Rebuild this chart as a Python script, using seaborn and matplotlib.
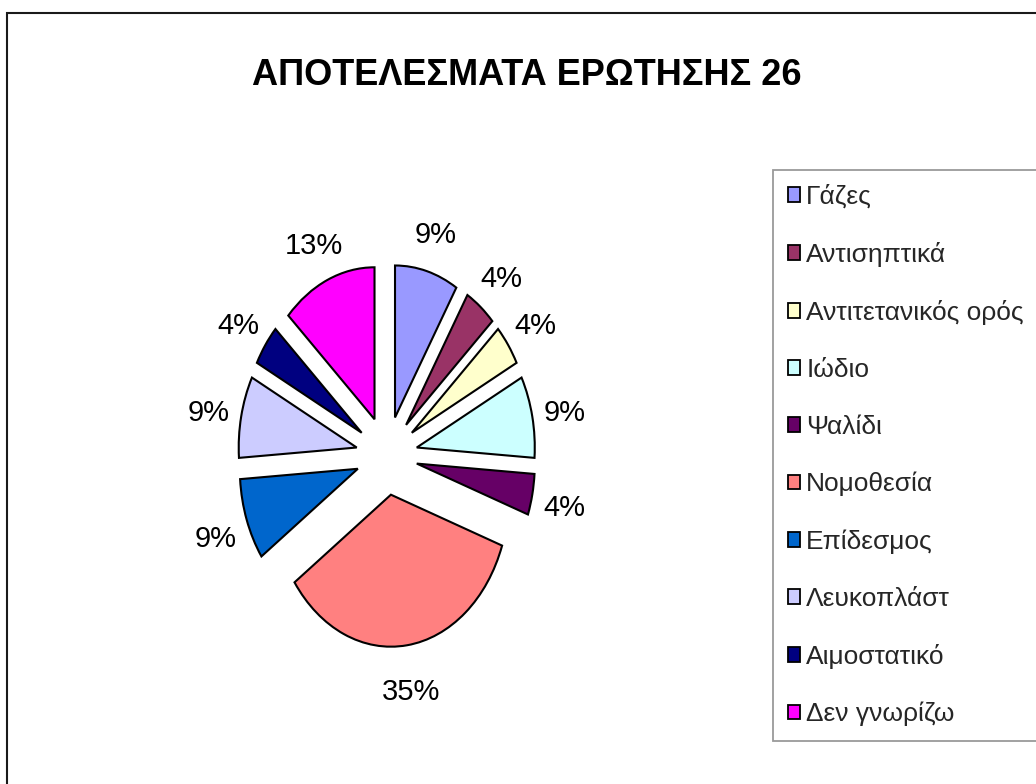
import matplotlib
matplotlib.use("Agg")
import matplotlib.pyplot as plt
from matplotlib import font_manager
from matplotlib.patches import Rectangle
from matplotlib.transforms import ScaledTranslation
import seaborn as sns

# Survey answers (counts of respondents) for question 26
categories = ["Γάζες", "Αντισηπτικά", "Αντιτετανικός ορός", "Ιώδιο", "Ψαλίδι",
              "Νομοθεσία", "Επίδεσμος", "Λευκοπλάστ", "Αιμοστατικό", "Δεν γνωρίζω"]
counts = [2, 1, 1, 2, 1, 8, 2, 2, 1, 3]
colors = ["#9999FF", "#993366", "#FFFFCC", "#CCFFFF", "#660066",
          "#FF8080", "#0066CC", "#CCCCFF", "#000080", "#FF00FF"]
title = "ΑΠΟΤΕΛΕΣΜΑΤΑ ΕΡΩΤΗΣΗΣ 26"

sns.set_theme(style="white")

installed = {f.name for f in font_manager.fontManager.ttflist}
if "Liberation Sans Narrow" in installed:
    family, k = "Liberation Sans Narrow", 1.0
else:
    family, k = "Liberation Sans", 0.84
plt.rcParams["font.family"] = [family, "DejaVu Sans"]

W, H = 1036, 784
fig = plt.figure(figsize=(W / 100, H / 100), dpi=100)
fig.patch.set_facecolor("white")

# chart-area frame (runs off the right and bottom edges)
fig.patches.append(Rectangle((7 / W, -0.1), 1.2, 1 - 13 / H + 0.1,
                             transform=fig.transFigure, fill=False,
                             edgecolor="#1a1a1a", linewidth=1.5))

fig.text(527 / W, 1 - 85 / H, title, ha="center", va="baseline",
         fontsize=31 * k, fontweight="bold", color="black")

ax = fig.add_axes([0.1569, 0.0506, 0.4328, 0.7367])
wedges, _, autotexts = ax.pie(
    counts,
    colors=sns.color_palette(colors),
    explode=[0.26] * len(counts),
    startangle=90,
    counterclock=False,
    autopct=lambda p: f"{p:.0f}%",
    pctdistance=1.28,
    wedgeprops=dict(edgecolor="black", linewidth=1.5),
    textprops=dict(fontsize=25 * k, color="black"),
)
ax.set_aspect("auto")
ax.set_xlim(-1.9, 1.9)
ax.set_ylim(-1.9, 1.9)
ax.axis("off")

# nudge the percentage labels slightly downward
nudge = ScaledTranslation(0, -5 / 100, fig.dpi_scale_trans)
for t in autotexts:
    t.set_transform(t.get_transform() + nudge)

legend_size = 19 if k < 1 else 21
leg = fig.legend(
    wedges, categories,
    loc="upper left", bbox_to_anchor=(773 / W, 1 - 170 / H),
    bbox_transform=fig.transFigure,
    fontsize=legend_size, frameon=True, fancybox=False, shadow=False,
    handlelength=0.46, handleheight=0.46, handletextpad=0.25,
    labelspacing=1.25, borderpad=0.55, borderaxespad=0.0,
)
frame = leg.get_frame()
frame.set_edgecolor("#808080")
frame.set_linewidth(1.3)
for h in leg.legend_handles:
    h.set_edgecolor("black")
    h.set_linewidth(1.3)

fig.savefig("out.png", dpi=100, facecolor="white")
